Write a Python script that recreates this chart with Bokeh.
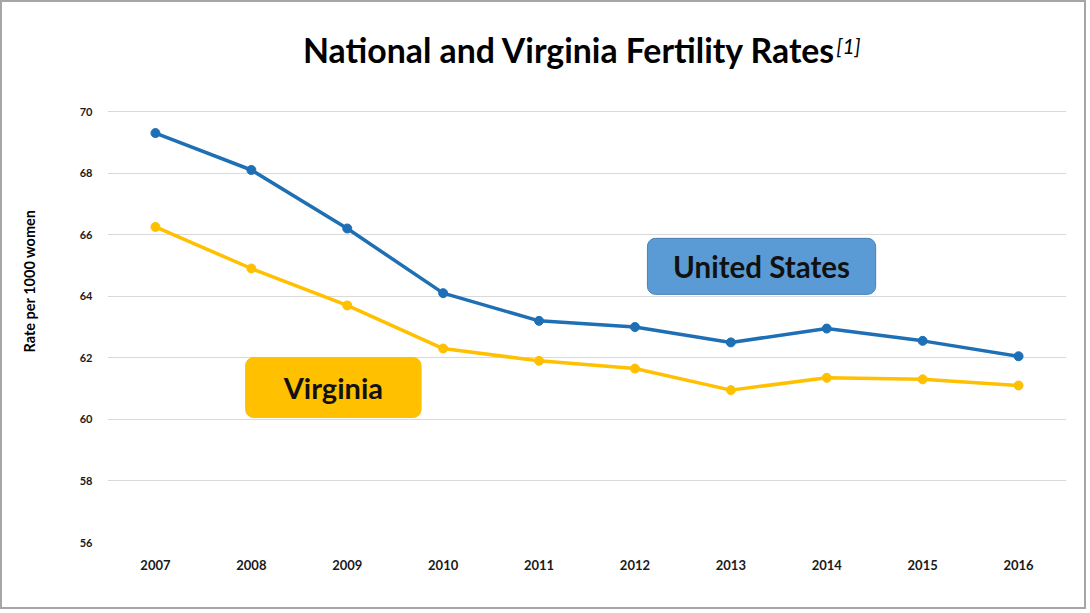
import numpy as np
from bokeh.plotting import figure
from bokeh.models import Label, FixedTicker, Range1d, ColumnDataSource, Title
from bokeh.embed import file_html
from bokeh.resources import INLINE

years = [2007, 2008, 2009, 2010, 2011, 2012, 2013, 2014, 2015, 2016]
us_rate = [69.3, 68.1, 66.2, 64.1, 63.2, 63.0, 62.5, 62.95, 62.55, 62.05]
va_rate = [66.25, 64.9, 63.7, 62.3, 61.9, 61.65, 60.95, 61.35, 61.3, 61.1]
y_ticks = [56, 58, 60, 62, 64, 66, 68, 70]

US_BLUE = "#1F6FB5"
VA_GOLD = "#FFC000"
BOX_BLUE = "#5B9BD5"
FONT = "Lato"

# frame spans from the top of the canvas; only 56..70 are ticked
p = figure(width=1086, height=609, output_backend="svg", toolbar_location=None,
           x_range=Range1d(2006.5, 2016.5), y_range=Range1d(56, 73.541),
           min_border_left=105, min_border_right=22, min_border_top=0, min_border_bottom=69)
p.background_fill_color = "white"
p.border_fill_color = "white"
p.outline_line_color = None
p.styles = {"border": "2px solid #A6A6A6"}

# axes
p.xaxis.ticker = FixedTicker(ticks=years)
p.yaxis.ticker = FixedTicker(ticks=y_ticks)
for ax in (p.xaxis[0], p.yaxis[0]):
    ax.axis_line_color = None
    ax.major_tick_line_color = None
    ax.minor_tick_line_color = None
    ax.major_label_text_font = FONT
    ax.major_label_text_font_style = "bold"
    ax.major_label_text_color = "#1a1a1a"
p.xaxis.major_label_text_font_size = "13px"
p.yaxis.major_label_text_font_size = "11px"
p.xaxis.major_label_standoff = 11
p.yaxis.major_label_standoff = 9
p.xgrid.grid_line_color = None
p.ygrid.grid_line_color = "#D9D9D9"
p.ygrid.grid_line_width = 1

# spacer between the tick labels and the y axis title
p.add_layout(Title(text=" ", standoff=23, text_font=FONT, text_font_size="10px"), "left")
# y axis title
p.add_layout(Title(text="Rate per 1000 women", align="left", vertical_align="top",
                   offset=190, standoff=0,
                   text_font=FONT, text_font_style="bold", text_font_size="14.5px",
                   text_color="#000000"), "left")

# lines
src = ColumnDataSource(dict(x=years, us=us_rate, va=va_rate))
p.line("x", "va", source=src, line_color=VA_GOLD, line_width=3.5)
p.scatter("x", "va", source=src, size=9, fill_color=VA_GOLD, line_color=VA_GOLD)
p.line("x", "us", source=src, line_color=US_BLUE, line_width=3.5)
p.scatter("x", "us", source=src, size=9, fill_color=US_BLUE, line_color=US_BLUE)

# label boxes
p.quad(left=[2012.13], right=[2014.51], top=[65.88], bottom=[64.06],
       fill_color=BOX_BLUE, line_color="#4A80B4", line_width=1, border_radius=8)
p.quad(left=[2007.94], right=[2009.77], top=[62.01], bottom=[60.06],
       fill_color=VA_GOLD, line_color=VA_GOLD, line_width=1, border_radius=8)
p.add_layout(Label(x=(2012.13 + 2014.51) / 2, y=(65.88 + 64.06) / 2, text="United States",
                   text_align="center", text_baseline="middle", text_font=FONT,
                   text_font_style="bold", text_font_size="29.5px", text_color="#111111"))
p.add_layout(Label(x=(2007.94 + 2009.77) / 2, y=(62.01 + 60.06) / 2, text="Virginia",
                   text_align="center", text_baseline="middle", text_font=FONT,
                   text_font_style="bold", text_font_size="29px", text_color="#111111"))

# title
p.add_layout(Label(x=2014.1, y=72.0, text="National and Virginia Fertility Rates",
                   text_align="right", text_baseline="middle", text_font=FONT,
                   text_font_style="bold", text_font_size="33.8px", text_color="#000000"))
p.add_layout(Label(x=2014.1, y=72.14, text="[1]",
                   text_align="left", text_baseline="middle", text_font=FONT,
                   text_font_style="italic", text_font_size="21px", text_color="#000000"))

open("out.html", "w").write(file_html(p, INLINE))
